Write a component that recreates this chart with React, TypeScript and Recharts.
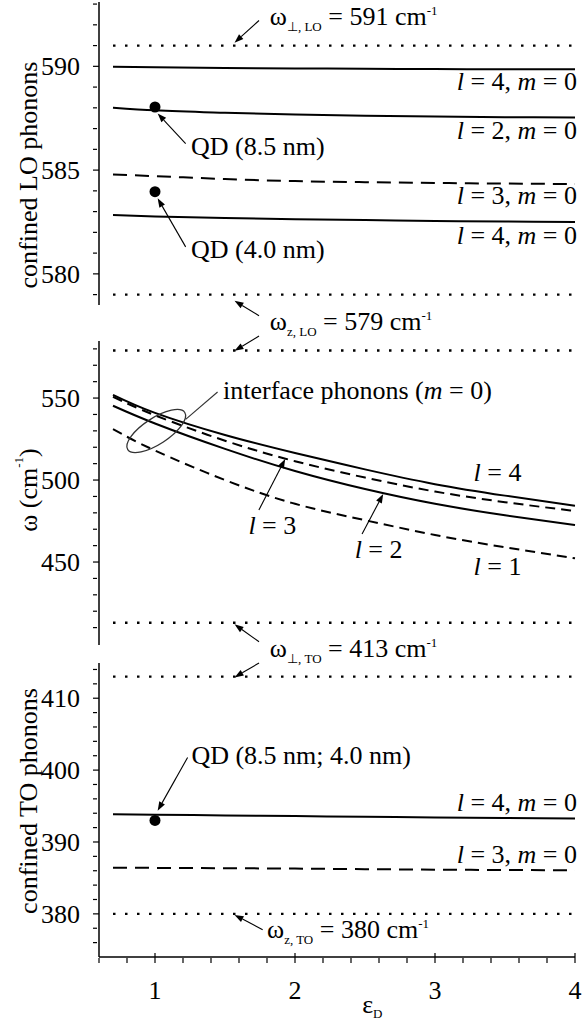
import React from "react";
import { ComposedChart, Line, XAxis, YAxis, ReferenceLine, ReferenceDot } from "recharts";

// dielectric constant of the surrounding medium
const eps = [0.7, 1, 1.5, 2, 2.5, 3, 3.5, 4];

// confined LO phonons (cm^-1)
const loL4Upper = [589.98, 589.95, 589.92, 589.9, 589.88, 589.87, 589.86, 589.86];
const loL2 = [588.01, 587.88, 587.76, 587.68, 587.62, 587.58, 587.55, 587.53];
const loL3 = [584.79, 584.71, 584.57, 584.47, 584.42, 584.38, 584.35, 584.33];
const loL4Lower = [582.84, 582.77, 582.69, 582.63, 582.59, 582.55, 582.52, 582.5];

// interface phonons, m = 0 (cm^-1)
const ifL4 = [552, 541, 527.5, 516.5, 506.5, 497.5, 490.5, 484.3];
const ifL3 = [550.8, 539.5, 524, 511.5, 501.5, 493, 486.5, 481.1];
const ifL2 = [545.3, 534.5, 519, 505.5, 494.5, 485.5, 478.5, 472.6];
const ifL1 = [531, 518, 500, 485.5, 475.5, 466.5, 459, 452.3];

// confined TO phonons (cm^-1)
const toL4 = [393.85, 393.8, 393.7, 393.6, 393.5, 393.42, 393.34, 393.26];
const toL3 = [386.43, 386.4, 386.35, 386.3, 386.22, 386.15, 386.1, 386.07];

// bulk limits: omega_perp,LO / omega_z,LO and omega_perp,TO / omega_z,TO
const loLimits = [591, 579];
const toLimits = [413, 380];

// measured quantum dots at eps = 1
const qdEps = 1;
const qdLO = [588.04, 583.96];
const qdTO = [393.0];

const xTicks = [0.6, 0.8, 1, 1.2, 1.4, 1.6, 1.8, 2, 2.2, 2.4, 2.6, 2.8, 3, 3.2, 3.4, 3.6, 3.8, 4];
const xMajor = [1, 2, 3, 4];
const loTicks = [579, 580, 581, 582, 583, 584, 585, 586, 587, 588, 589, 590, 591, 592, 593];
const loMajor = [580, 585, 590];
const ifTicks = [410, 420, 430, 440, 450, 460, 470, 480, 490, 500, 510, 520, 530, 540, 550, 560, 570, 580];
const ifMajor = [450, 500, 550];
const toTicks = [376, 378, 380, 382, 384, 386, 388, 390, 392, 394, 396, 398, 400, 402, 404, 406, 408, 410, 412, 414];
const toMajor = [380, 390, 400, 410];

const loData = eps.map((e, i) => ({ eps: e, a: loL4Upper[i], b: loL2[i], c: loL3[i], d: loL4Lower[i] }));
const ifData = eps.map((e, i) => ({ eps: e, l4: ifL4[i], l3: ifL3[i], l2: ifL2[i], l1: ifL1[i] }));
const toData = eps.map((e, i) => ({ eps: e, l4: toL4[i], l3: toL3[i] }));

const SERIF = "Liberation Serif, Times New Roman, serif";
const TXT = { fontFamily: SERIF, whiteSpace: "pre" as const };
const FS = 26;
const SUB = 13;
const W = 587;
const MARGIN_X = { left: 39, right: 12 };
const X0 = eps[0];
const X1 = eps[eps.length - 1];

const YTick = (p: any) => {
  const major = p.majors.includes(p.payload.value);
  return (
    <g>
      <line x1={p.x} x2={p.x + (major ? 6 : 4)} y1={p.y} y2={p.y} stroke="#000" strokeWidth={1.2} />
      {major && (
        <text x={p.x - 13} y={p.y} dy="0.34em" textAnchor="end" style={TXT} fontSize={FS} fill="#000">
          {p.payload.value}
        </text>
      )}
    </g>
  );
};

const XTick = (p: any) => {
  const major = xMajor.includes(p.payload.value);
  return (
    <g>
      <line x1={p.x} x2={p.x} y1={p.y} y2={p.y - (major ? 10 : 5)} stroke="#000" strokeWidth={1.2} />
      {major && (
        <text x={p.x} y={p.y + 36} textAnchor="middle" style={TXT} fontSize={FS} fill="#000">
          {p.payload.value}
        </text>
      )}
    </g>
  );
};

const arrow = (head = true, color = "#000") => (p: any) => {
  const { x1, y1, x2, y2 } = p;
  const a = Math.atan2(y2 - y1, x2 - x1);
  const L = head ? 9 : 0;
  const w = 3.2;
  const bx = x2 - L * Math.cos(a);
  const by = y2 - L * Math.sin(a);
  const pts = `${x2},${y2} ${bx - w * Math.sin(a)},${by + w * Math.cos(a)} ${bx + w * Math.sin(a)},${by - w * Math.cos(a)}`;
  return (
    <g>
      <line x1={x1} y1={y1} x2={bx} y2={by} stroke={color} strokeWidth={1.1} />
      {head && <polygon points={pts} fill={color} />}
    </g>
  );
};

const note = (content: React.ReactNode, anchor: string = "start", dx = 0) => (p: any) => (
  <text x={p.cx + dx} y={p.cy} textAnchor={anchor} style={TXT} fontSize={FS} fill="#000">
    {content}
  </text>
);

const vnote = (content: React.ReactNode) => (p: any) => (
  <text
    x={p.cx}
    y={p.cy}
    transform={`rotate(-90 ${p.cx} ${p.cy})`}
    textAnchor="middle"
    dominantBaseline="central"
    style={TXT}
    fontSize={FS}
    fill="#000"
  >
    {content}
  </text>
);

const I = ({ children }: { children: React.ReactNode }) => <tspan fontStyle="italic">{children}</tspan>;

const lm = (l: number) => (
  <>
    <I>l</I> = {l}, <I>m</I> = 0
  </>
);

const omega = (sub: string, value: number) => (
  <>
    ω<tspan fontSize={SUB} dy={6}>{sub}</tspan>
    <tspan dy={-6}> = {value} cm</tspan>
    <tspan fontSize={SUB} dy={-10}>-1</tspan>
  </>
);

const limitLine = (y: number) => (
  <ReferenceLine
    key={y}
    segment={[{ x: X0, y }, { x: X1, y }]}
    stroke="#000"
    strokeWidth={2.4}
    strokeDasharray="2.5 9.5"
    ifOverflow="visible"
  />
);

const dot = (y: number) => (
  <ReferenceDot key={y} x={qdEps} y={y} r={5.5} fill="#000" stroke="none" ifOverflow="visible" />
);

const seg = (x1: number, y1: number, x2: number, y2: number, head = true) => (
  <ReferenceLine segment={[{ x: x1, y: y1 }, { x: x2, y: y2 }]} ifOverflow="visible" shape={arrow(head)} />
);

const label = (x: number, y: number, shape: any) => (
  <ReferenceDot x={x} y={y} r={0} ifOverflow="visible" shape={shape} />
);

function LOPanel() {
  return (
    <ComposedChart width={W} height={320} data={loData} margin={{ top: 2, bottom: 15, ...MARGIN_X }}>
      <XAxis dataKey="eps" type="number" domain={[0.6, 4]} hide />
      <YAxis
        type="number"
        domain={[578.5, 593.1]}
        ticks={loTicks}
        interval={0}
        width={60}
        tickLine={false}
        tickMargin={0}
        axisLine={{ stroke: "#000", strokeWidth: 1.5 }}
        tick={(p: any) => <YTick {...p} majors={loMajor} />}
      />
      {loLimits.map(limitLine)}
      <Line type="monotone" dataKey="a" stroke="#000" strokeWidth={2} dot={false} isAnimationActive={false} />
      <Line type="monotone" dataKey="b" stroke="#000" strokeWidth={2} dot={false} isAnimationActive={false} />
      <Line type="monotone" dataKey="c" stroke="#000" strokeWidth={2} strokeDasharray="14 8" dot={false} isAnimationActive={false} />
      <Line type="monotone" dataKey="d" stroke="#000" strokeWidth={2} dot={false} isAnimationActive={false} />
      {qdLO.map(dot)}
      {label(X1, 588.85, note(lm(4), "end", 2))}
      {label(X1, 586.49, note(lm(2), "end", 2))}
      {label(X1, 583.37, note(lm(3), "end", 2))}
      {label(X1, 581.44, note(lm(4), "end", 2))}
      {label(1.257, 585.72, note("QD (8.5 nm)"))}
      {seg(1.219, 586.28, 1.019, 587.73)}
      {label(1.257, 580.77, note("QD (4.0 nm)"))}
      {seg(1.219, 581.3, 1.019, 583.64)}
      {label(1.82, 591.97, note(omega("⊥, LO", 591)))}
      {seg(1.743, 592.21, 1.568, 591.14)}
      {label(1.82, 577.31, note(omega("z, LO", 579)))}
      {seg(1.743, 577.98, 1.568, 578.7)}
      {label(0.093, 584.76, vnote("confined LO phonons"))}
    </ComposedChart>
  );
}

function InterfacePanel() {
  return (
    <ComposedChart width={W} height={332} data={ifData} margin={{ top: 21, bottom: 7, ...MARGIN_X }}>
      <XAxis dataKey="eps" type="number" domain={[0.6, 4]} hide />
      <YAxis
        type="number"
        domain={[399.4, 584.8]}
        ticks={ifTicks}
        interval={0}
        width={60}
        tickLine={false}
        tickMargin={0}
        axisLine={{ stroke: "#000", strokeWidth: 1.5 }}
        tick={(p: any) => <YTick {...p} majors={ifMajor} />}
      />
      {limitLine(loLimits[1])}
      {limitLine(toLimits[0])}
      <Line type="natural" dataKey="l4" stroke="#000" strokeWidth={2} dot={false} isAnimationActive={false} />
      <Line type="natural" dataKey="l3" stroke="#000" strokeWidth={2} strokeDasharray="10 6" dot={false} isAnimationActive={false} />
      <Line type="natural" dataKey="l2" stroke="#000" strokeWidth={2} dot={false} isAnimationActive={false} />
      <Line type="natural" dataKey="l1" stroke="#000" strokeWidth={2} strokeDasharray="10 6" dot={false} isAnimationActive={false} />
      {seg(1.743, 587.8, 1.568, 578.8)}
      {label(1.486, 549.4, note(<>interface phonons (<I>m</I> = 0)</>))}
      <ReferenceLine segment={[{ x: 1.447, y: 553.7 }, { x: 1.219, y: 537.0 }]} ifOverflow="visible" shape={arrow(false, "#333")} />
      {label(1.009, 529.9, (p: any) => (
        <ellipse
          cx={p.cx}
          cy={p.cy}
          rx={34}
          ry={13}
          transform={`rotate(-33 ${p.cx} ${p.cy})`}
          fill="none"
          stroke="#333"
          strokeWidth={1.3}
        />
      ))}
      {label(3.275, 499.4, note(<><I>l</I> = 4</>))}
      {label(1.667, 467.1, note(<><I>l</I> = 3</>))}
      {seg(1.742, 481.7, 1.93, 512.8)}
      {label(2.426, 452.6, note(<><I>l</I> = 2</>))}
      {seg(2.479, 467.1, 2.63, 491.5)}
      {label(3.275, 442.1, note(<><I>l</I> = 1</>))}
      {label(1.82, 392.3, note(omega("⊥, TO", 413)))}
      {seg(1.743, 401.4, 1.568, 412.0)}
      {label(0.093, 493.9, vnote(<>ω (cm<tspan fontSize={SUB} dy={-10}>-1</tspan><tspan dy={10}>)</tspan></>))}
    </ComposedChart>
  );
}

function TOPanel() {
  return (
    <ComposedChart width={W} height={376} data={toData} margin={{ top: 11, bottom: 11, ...MARGIN_X }}>
      <XAxis
        dataKey="eps"
        type="number"
        domain={[0.6, 4]}
        ticks={xTicks}
        interval={0}
        height={60}
        tickLine={false}
        tickMargin={0}
        axisLine={{ stroke: "#000", strokeWidth: 1.5 }}
        tick={(p: any) => <XTick {...p} />}
      />
      <YAxis
        type="number"
        domain={[374, 414.9]}
        ticks={toTicks}
        interval={0}
        width={60}
        tickLine={false}
        tickMargin={0}
        axisLine={{ stroke: "#000", strokeWidth: 1.5 }}
        tick={(p: any) => <YTick {...p} majors={toMajor} />}
      />
      {toLimits.map(limitLine)}
      <Line type="monotone" dataKey="l4" stroke="#000" strokeWidth={2} dot={false} isAnimationActive={false} />
      <Line type="monotone" dataKey="l3" stroke="#000" strokeWidth={2} strokeDasharray="14 8" dot={false} isAnimationActive={false} />
      {qdTO.map(dot)}
      {seg(1.743, 414.9, 1.568, 412.9)}
      {label(1.26, 400.8, note("QD (8.5 nm; 4.0 nm)"))}
      {seg(1.233, 401.76, 1.019, 394.35)}
      {label(X1, 394.35, note(lm(4), "end", 2))}
      {label(X1, 387.1, note(lm(3), "end", 2))}
      {label(1.8, 376.6, note(omega("z, TO", 380)))}
      {seg(1.769, 377.8, 1.568, 379.86)}
      {label(0.093, 395.7, vnote("confined TO phonons"))}
      {label(2.48, 366.2, note(<>ε<tspan fontSize={SUB} dy={5}>D</tspan></>))}
    </ComposedChart>
  );
}

export default function App() {
  return (
    <div
      style={{ position: "absolute", left: 0, top: 0, width: W, height: 1028, background: "#fff", fontFamily: SERIF }}
    >
      <style>{`.recharts-surface{overflow:visible}`}</style>
      <LOPanel />
      <InterfacePanel />
      <TOPanel />
    </div>
  );
}
